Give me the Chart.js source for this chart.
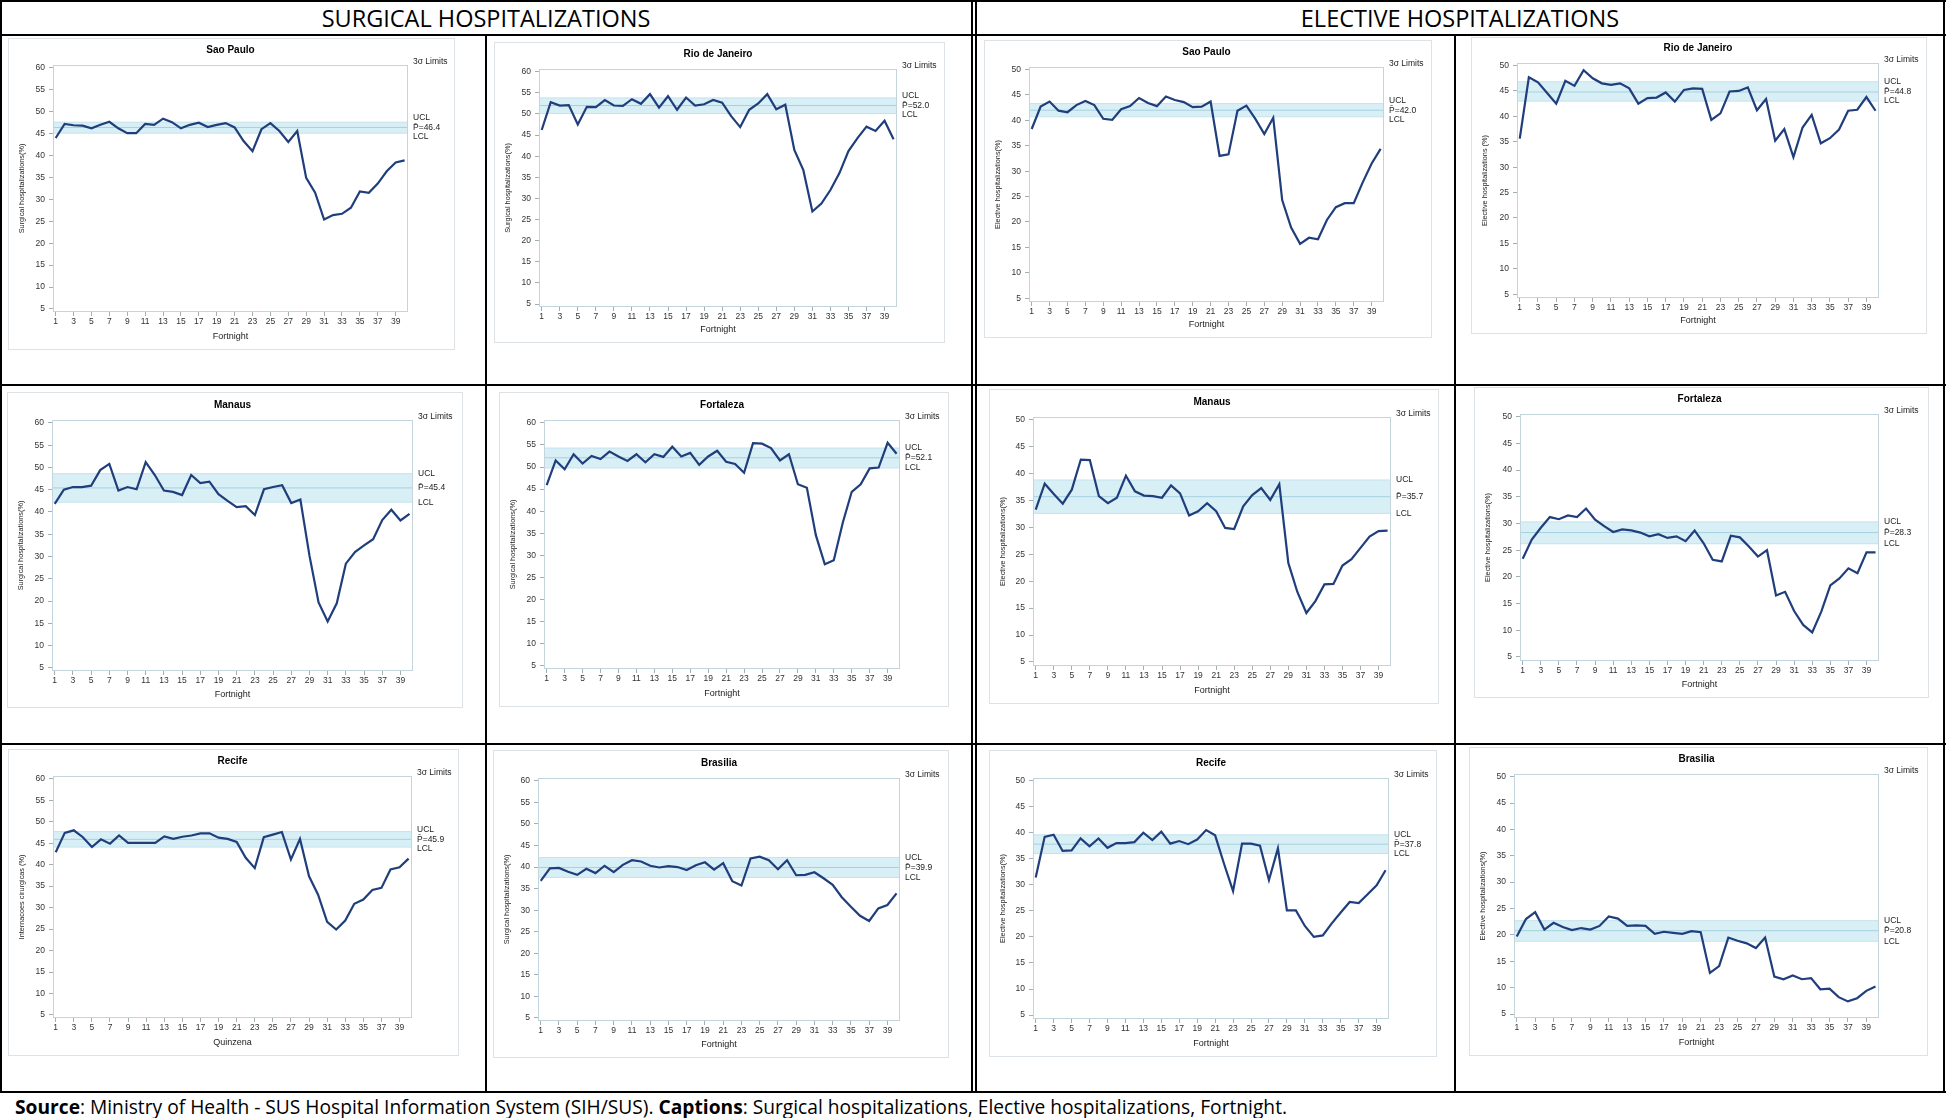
<!DOCTYPE html>
<html>
<head>
<meta charset="utf-8">
<script src="https://cdn.jsdelivr.net/npm/chart.js@4.4.1/dist/chart.umd.min.js"></script>
<style>
  body { margin:0; background:#fff; width:1946px; height:1118px; position:relative; overflow:hidden; font-family:"Open Sans", sans-serif; }
  .rule { position:absolute; background:#000; }
  .head { position:absolute; top:1px; height:34px; line-height:34px; text-align:center; font-size:23.5px; color:#000; }
  canvas { position:absolute; }
  #source { position:absolute; left:15px; top:1093px; font-size:19.2px; color:#000; white-space:nowrap; }
</style>
</head>
<body>
<div class="head" style="left:0;width:972px">SURGICAL HOSPITALIZATIONS</div>
<div class="head" style="left:976px;width:968px">ELECTIVE HOSPITALIZATIONS</div>
<div id="source"><b>Source</b>: Ministry of Health - SUS Hospital Information System (SIH/SUS). <b>Captions</b>: Surgical hospitalizations, Elective hospitalizations, Fortnight.</div>

<script>
// x axis
const fortnights = [1,2,3,4,5,6,7,8,9,10,11,12,13,14,15,16,17,18,19,20,21,22,23,24,25,26,27,28,29,30,31,32,33,34,35,36,37,38,39,40];
const xTicks = [1,3,5,7,9,11,13,15,17,19,21,23,25,27,29,31,33,35,37,39];
const surgicalYTicks = [5,10,15,20,25,30,35,40,45,50,55,60];
const electiveYTicks = [5,10,15,20,25,30,35,40,45,50];

// surgical hospitalizations (%)
const spSurgical  = [44.0,47.2,46.9,46.8,46.2,47.0,47.7,46.2,45.1,45.1,47.2,47.0,48.4,47.6,46.2,47.0,47.5,46.5,47.0,47.4,46.4,43.3,41.0,46.0,47.4,45.6,43.1,45.6,34.9,31.5,25.4,26.4,26.7,28.1,31.8,31.5,33.6,36.4,38.4,38.9];
const rjSurgical  = [46.2,52.8,52.0,52.1,47.5,51.7,51.6,53.3,52.0,51.9,53.5,52.4,54.7,51.5,54.2,51.0,53.9,52.0,52.3,53.3,52.7,49.5,46.9,51.0,52.5,54.7,51.1,52.2,41.5,36.7,26.9,28.8,32.0,36.0,41.2,44.3,47.0,46.0,48.4,44.0];
const maSurgical  = [41.8,45.0,45.6,45.6,45.9,49.4,50.8,44.8,45.6,45.1,51.2,48.3,44.8,44.5,43.8,48.3,46.5,46.8,44.0,42.5,41.1,41.3,39.3,45.1,45.6,46.0,42.0,42.8,30.2,19.7,15.4,19.5,28.4,31.0,32.5,33.9,38.2,40.5,38.1,39.6];
const foSurgical  = [45.9,51.5,49.5,52.9,50.8,52.5,51.8,53.5,52.4,51.4,52.9,51.1,52.9,52.3,54.6,52.4,53.2,50.5,52.4,53.7,51.2,50.7,48.7,55.4,55.3,54.3,51.5,52.9,46.1,45.3,34.6,28.0,28.9,37.4,44.4,46.1,49.7,49.9,55.5,53.0];
const reSurgical  = [42.9,47.4,48.0,46.4,44.1,45.9,44.9,46.8,45.1,45.1,45.1,45.1,46.6,46.0,46.5,46.8,47.3,47.3,46.3,46.0,45.3,41.6,39.2,46.4,47.0,47.6,41.2,46.0,37.3,33.0,26.7,24.9,27.0,30.9,31.9,34.1,34.6,38.9,39.4,41.4];
const brSurgical  = [36.8,39.7,39.8,38.9,38.2,39.6,38.6,40.3,38.8,40.5,41.6,41.3,40.3,39.9,40.2,40.0,39.3,40.4,41.1,39.4,40.9,36.7,35.7,42.0,42.4,41.6,39.5,41.6,38.1,38.2,38.8,37.4,35.9,33.0,30.8,28.7,27.5,30.4,31.2,33.9];

// elective hospitalizations (%)
const spElective  = [38.3,42.7,43.7,41.9,41.6,43.0,43.8,43.0,40.3,40.1,42.2,42.8,44.4,43.4,42.8,44.7,44.0,43.6,42.6,42.7,43.7,33.0,33.3,41.9,42.9,40.3,37.3,40.5,24.3,18.9,15.7,16.9,16.6,20.4,22.9,23.7,23.7,27.8,31.5,34.4];
const rjElective  = [35.6,47.7,46.7,44.6,42.5,47.0,46.0,49.1,47.5,46.5,46.2,46.5,45.5,42.5,43.6,43.7,44.7,42.9,45.2,45.5,45.4,39.3,40.6,44.9,45.0,45.7,41.2,43.4,35.2,37.5,32.0,37.8,40.3,34.7,35.7,37.4,41.1,41.3,43.8,41.1];
const maElective  = [33.3,38.1,36.2,34.4,37.0,42.6,42.5,35.8,34.5,35.5,39.6,36.7,35.9,35.8,35.5,37.8,36.3,32.2,33.0,34.5,33.0,29.9,29.7,33.9,36.0,37.3,35.1,38.0,23.4,18.0,14.1,16.3,19.4,19.5,22.9,24.1,26.2,28.3,29.3,29.4];
const foElective  = [23.4,27.0,29.2,31.2,30.8,31.5,31.2,32.8,30.7,29.5,28.4,28.9,28.7,28.3,27.6,28.0,27.3,27.6,26.7,28.7,26.3,23.2,22.9,27.7,27.4,25.7,23.8,25.0,16.5,17.2,13.6,11.0,9.6,13.5,18.4,19.7,21.6,20.7,24.6,24.6];
const reElective  = [31.4,39.2,39.6,36.5,36.6,38.9,37.4,38.9,37.1,38.0,38.0,38.2,40.0,38.6,40.2,37.9,38.4,37.8,38.7,40.5,39.5,34.0,28.8,37.9,37.9,37.5,30.9,37.0,25.1,25.1,22.1,20.0,20.3,22.6,24.7,26.7,26.5,28.2,29.9,32.8];
const brElective  = [19.7,23.0,24.3,21.0,22.3,21.5,20.9,21.3,21.0,21.7,23.5,23.1,21.7,21.8,21.7,20.2,20.6,20.4,20.2,20.7,20.5,12.8,14.1,19.5,18.9,18.4,17.5,19.5,12.1,11.6,12.3,11.6,11.8,9.7,9.8,8.2,7.4,8.0,9.4,10.2];

// control limits [UCL, mean, LCL]
const spSurgicalLimits = [47.6, 46.4, 45.1];
const rjSurgicalLimits = [53.8, 52.0, 50.1];
const maSurgicalLimits = [48.6, 45.4, 42.2];
const foSurgicalLimits = [54.3, 52.1, 49.8];
const reSurgicalLimits = [47.7, 45.9, 44.1];
const brSurgicalLimits = [42.2, 39.9, 37.6];
const spElectiveLimits = [43.3, 42.0, 40.7];
const rjElectiveLimits = [46.8, 44.8, 43.0];
const maElectiveLimits = [38.8, 35.7, 32.6];
const foElectiveLimits = [30.3, 28.3, 26.2];
const reElectiveLimits = [39.6, 37.8, 36.0];
const brElectiveLimits = [22.7, 20.8, 18.8];

const surgTitle = 'Surgical hospitalizations(%)';
const electTitle = 'Elective hospitalizations(%)';

// card box and plot box in page pixels: [cardX, cardY, cardW, cardH, plotL, plotT, plotR, plotB]
const panels = [
  { city:'Sao Paulo',      values:spSurgical, limits:spSurgicalLimits, kind:'s', yTitle:surgTitle, xTitle:'Fortnight', box:[8,38,447,312, 53,65,408,312] },
  { city:'Rio de Janeiro', values:rjSurgical, limits:rjSurgicalLimits, kind:'s', yTitle:surgTitle, xTitle:'Fortnight', box:[494,42,451,301, 539,69,897,307] },
  { city:'Sao Paulo',      values:spElective, limits:spElectiveLimits, kind:'e', yTitle:electTitle, xTitle:'Fortnight', box:[984,40,448,298, 1029,67,1384,302] },
  { city:'Rio de Janeiro', values:rjElective, limits:rjElectiveLimits, kind:'e', yTitle:'Elective hospitalizations (%)', xTitle:'Fortnight', box:[1471,37,456,297, 1517,63,1879,298] },
  { city:'Manaus',         values:maSurgical, limits:maSurgicalLimits, kind:'s', yTitle:surgTitle, xTitle:'Fortnight', box:[7,392,456,316, 52,420,413,671] },
  { city:'Fortaleza',      values:foSurgical, limits:foSurgicalLimits, kind:'s', yTitle:surgTitle, xTitle:'Fortnight', box:[499,392,450,315, 544,420,900,669] },
  { city:'Manaus',         values:maElective, limits:maElectiveLimits, kind:'e', yTitle:electTitle, xTitle:'Fortnight', box:[989,389,450,315, 1033,417,1391,666] },
  { city:'Fortaleza',      values:foElective, limits:foElectiveLimits, kind:'e', yTitle:electTitle, xTitle:'Fortnight', box:[1474,387,455,311, 1520,414,1879,661] },
  { city:'Recife',         values:reSurgical, limits:reSurgicalLimits, kind:'s', yTitle:'Internacoes cirurgicas (%)', xTitle:'Quinzena', box:[8,749,451,307, 53,776,412,1018] },
  { city:'Brasilia',       values:brSurgical, limits:brSurgicalLimits, kind:'s', yTitle:surgTitle, xTitle:'Fortnight', box:[493,750,456,308, 538,778,900,1021] },
  { city:'Recife',         values:reElective, limits:reElectiveLimits, kind:'e', yTitle:electTitle, xTitle:'Fortnight', box:[989,750,448,307, 1033,778,1389,1019] },
  { city:'Brasilia',       values:brElective, limits:brElectiveLimits, kind:'e', yTitle:electTitle, xTitle:'Fortnight', box:[1469,747,459,309, 1514,774,1879,1018] }
];

// black table rules
const rules = [
  [0,0,1946,2],[0,34,1946,2],[0,384,1946,2],[0,743,1946,2],[0,1091,1946,2],
  [0,0,2,1093],[485,35,2,1058],[971,0,2,1093],[975,0,2,1093],[1454,35,2,1058],[1943,0,2,1093]
];
rules.forEach(r => {
  const d = document.createElement('div');
  d.className = 'rule';
  d.style.cssText = `left:${r[0]}px;top:${r[1]}px;width:${r[2]}px;height:${r[3]}px`;
  document.body.appendChild(d);
});

const LABEL = '"Liberation Sans", Arial, sans-serif';

const controlChart = {
  id: 'controlChart',
  beforeDatasetsDraw(chart, args, opts) {
    const { ctx, chartArea: a, scales: { y } } = chart;
    const [ucl, mean, lcl] = opts.limits;
    const yu = y.getPixelForValue(ucl), yl = y.getPixelForValue(lcl), ym = y.getPixelForValue(mean);
    ctx.save();
    ctx.fillStyle = '#d9eff6';
    ctx.fillRect(a.left, yu, a.width, yl - yu);
    ctx.lineWidth = 1;
    ctx.strokeStyle = '#c4e3ee';
    ctx.beginPath();
    ctx.moveTo(a.left, yu); ctx.lineTo(a.right, yu);
    ctx.moveTo(a.left, yl); ctx.lineTo(a.right, yl);
    ctx.stroke();
    ctx.strokeStyle = '#a6d0e0';
    ctx.beginPath();
    ctx.moveTo(a.left, ym); ctx.lineTo(a.right, ym);
    ctx.stroke();
    ctx.restore();
  },
  afterDraw(chart, args, opts) {
    const { ctx, chartArea: a, scales: { y } } = chart;
    const [ucl, mean, lcl] = opts.limits;
    ctx.save();
    // card border
    ctx.strokeStyle = '#dce2e6';
    ctx.lineWidth = 1;
    ctx.strokeRect(0.5, 0.5, chart.width - 1, chart.height - 1);
    // plot frame
    ctx.strokeStyle = '#c4d4dc';
    ctx.strokeRect(a.left + 0.5, a.top + 0.5, a.width - 1, a.height - 1);
    // title
    ctx.fillStyle = '#000';
    ctx.font = 'bold 10px ' + LABEL;
    ctx.textAlign = 'center';
    ctx.textBaseline = 'middle';
    ctx.fillText(opts.city, (a.left + a.right) / 2, a.top - 15);
    // limit labels
    ctx.fillStyle = '#222';
    ctx.font = '8.5px ' + LABEL;
    ctx.textAlign = 'left';
    const lx = a.right + 5;
    ctx.fillText('3\u03c3 Limits', lx, a.top - 3);
    const ym = y.getPixelForValue(mean);
    const yu = Math.min(y.getPixelForValue(ucl), ym - 10);
    const yl = Math.max(y.getPixelForValue(lcl), ym + 9);
    ctx.fillText('UCL', lx, yu);
    ctx.fillText('P\u0304=' + mean.toFixed(1), lx, ym);
    ctx.fillText('LCL', lx, yl);
    ctx.restore();
  }
};

panels.forEach(p => {
  const [cx, cy, cw, ch, pl, pt, pr, pb] = p.box;
  const canvas = document.createElement('canvas');
  canvas.width = cw; canvas.height = ch;
  canvas.style.left = cx + 'px'; canvas.style.top = cy + 'px';
  canvas.style.width = cw + 'px'; canvas.style.height = ch + 'px';
  document.body.appendChild(canvas);

  const yTicks = p.kind === 's' ? surgicalYTicks : electiveYTicks;
  const tickColor = '#333';
  new Chart(canvas, {
    type: 'line',
    data: {
      datasets: [{
        data: p.values.map((v, i) => ({ x: fortnights[i], y: v })),
        borderColor: '#1f3e7b',
        borderWidth: 2.2,
        pointRadius: 0,
        tension: 0
      }]
    },
    options: {
      responsive: false,
      animation: false,
      devicePixelRatio: 1,
      layout: { padding: { left: 0, top: pt - cy, right: cx + cw - pr, bottom: 0 } },
      plugins: {
        legend: { display: false },
        tooltip: { enabled: false },
        controlChart: { limits: p.limits, city: p.city }
      },
      scales: {
        x: {
          type: 'linear',
          min: 0.7,
          max: 40.38,
          afterBuildTicks: s => { s.ticks = xTicks.map(v => ({ value: v })); },
          afterFit: s => { s.height = cy + ch - pb; },
          grid: { drawOnChartArea: false, tickLength: 4, color: '#9fb0ba' },
          border: { display: false },
          ticks: { autoSkip: false, maxRotation: 0, padding: 1, color: tickColor, font: { family: LABEL, size: 8.5 } },
          title: { display: true, text: p.xTitle, color: '#222', font: { family: LABEL, size: 9 }, padding: { top: 0, bottom: 8 } }
        },
        y: {
          min: p.kind === 's' ? 4.3 : 4.25,
          max: p.kind === 's' ? 60.65 : 50.5,
          afterBuildTicks: s => { s.ticks = yTicks.map(v => ({ value: v })); },
          afterFit: s => { s.width = pl - cx; },
          grid: { drawOnChartArea: false, tickLength: 4, color: '#9fb0ba' },
          border: { display: false },
          ticks: { padding: 4, color: tickColor, font: { family: LABEL, size: 8.5 } },
          title: { display: true, text: p.yTitle, color: '#222', font: { family: LABEL, size: 7.3 }, padding: { top: 10, bottom: 0 } }
        }
      }
    },
    plugins: [controlChart]
  });
});
</script>
</body>
</html>
